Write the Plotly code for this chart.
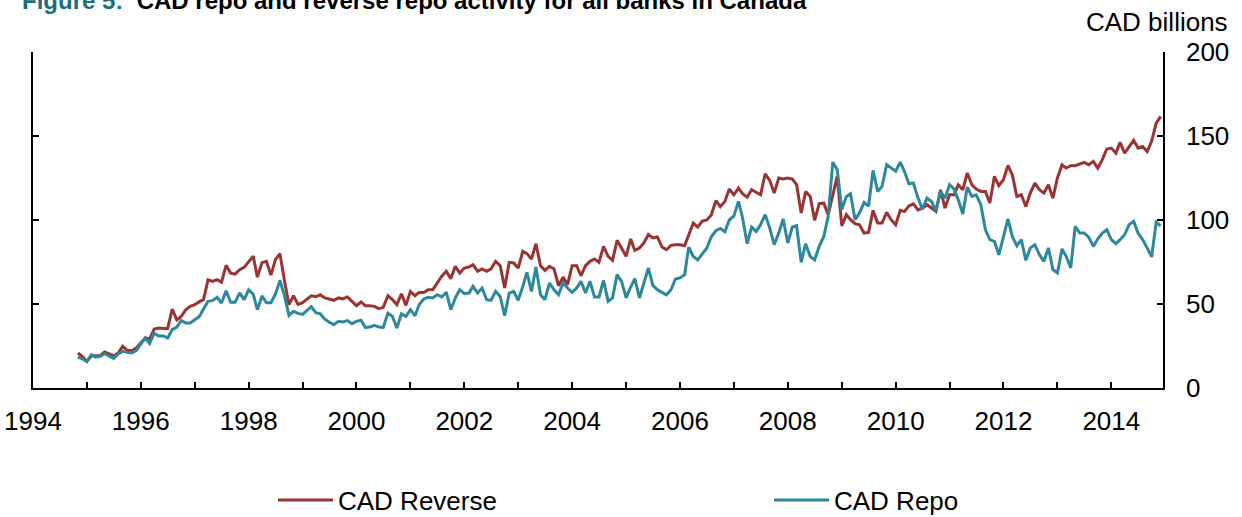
import pandas as pd
import plotly.graph_objects as go

# Monthly observations, Nov 1994 .. Dec 2014 (CAD billions)
start_month = "1994-11-01"

cad_reverse = [
    20.8, 18.8, 15.8, 19.2, 19.2, 19.2, 21.4, 20.4, 19.2, 20.8,
    24.8, 22.4, 22.2, 23.8, 26.8, 29.8, 29.2, 35.1, 35.7, 35.7,
    35.3, 47.0, 40.6, 42.6, 46.6, 48.6, 49.6, 51.4, 52.6, 64.5,
    63.5, 64.5, 63.0, 73.0, 68.4, 67.8, 70.4, 71.8, 75.4, 78.4,
    66.0, 74.6, 75.4, 67.2, 76.4, 79.9, 63.5, 49.6, 54.9, 49.8,
    50.8, 52.8, 54.9, 54.4, 55.5, 53.6, 53.0, 52.2, 53.6, 53.0,
    54.2, 51.6, 49.0, 51.2, 49.0, 49.0, 48.6, 47.2, 48.0, 54.9,
    52.6, 49.6, 56.1, 49.2, 57.5, 54.9, 56.9, 56.9, 58.5, 58.5,
    62.5, 66.5, 69.5, 65.1, 72.4, 68.4, 71.4, 72.0, 73.4, 69.5,
    70.9, 69.5, 70.9, 75.4, 72.8, 59.5, 74.8, 74.4, 71.4, 81.4,
    80.0, 76.8, 85.9, 72.8, 70.0, 72.4, 70.9, 60.9, 66.0, 61.5,
    72.8, 72.8, 66.8, 72.8, 75.4, 76.8, 74.8, 84.3, 78.4, 76.0,
    87.9, 83.3, 78.4, 88.7, 81.9, 83.3, 86.3, 91.3, 89.3, 89.9,
    83.9, 82.3, 84.9, 85.3, 85.3, 84.7, 91.3, 98.2, 95.8, 99.4,
    100.0, 103.0, 111.5, 108.0, 111.0, 118.4, 115.0, 119.0, 115.6, 113.6,
    118.0, 116.4, 115.0, 127.5, 123.6, 116.0, 125.0, 124.4, 125.0, 124.4,
    121.0, 104.2, 117.0, 114.0, 99.8, 109.7, 110.0, 103.2, 114.0, 126.0,
    96.5, 103.2, 100.2, 97.8, 97.2, 92.2, 92.6, 105.7, 98.2, 98.2,
    104.6, 100.2, 97.2, 105.7, 105.0, 108.4, 109.6, 106.0, 107.1, 109.1,
    107.1, 105.1, 118.0, 107.1, 115.0, 115.0, 121.0, 118.0, 128.0, 121.0,
    118.4, 117.0, 117.0, 110.1, 126.0, 120.4, 124.0, 132.5, 126.9, 114.0,
    115.0, 108.0, 116.0, 122.0, 118.0, 116.0, 121.0, 113.0, 125.0, 132.9,
    130.9, 132.3, 132.3, 133.5, 134.3, 132.9, 134.9, 130.9, 135.9, 142.2,
    142.8, 139.8, 146.2, 139.8, 143.8, 147.4, 142.8, 143.8, 140.8, 146.8,
    157.7, 161.7,
]

cad_repo = [
    18.4, 17.4, 15.8, 19.8, 18.4, 18.8, 20.4, 19.2, 17.6, 20.2,
    21.8, 21.2, 20.8, 22.2, 25.8, 29.8, 26.4, 32.6, 31.0, 31.0,
    29.8, 34.7, 36.3, 40.2, 38.7, 38.7, 40.6, 42.6, 47.0, 51.6,
    52.0, 54.0, 50.6, 57.8, 51.0, 51.0, 56.6, 52.6, 58.4, 55.8,
    46.6, 54.8, 50.8, 50.8, 55.8, 64.0, 54.8, 43.2, 45.6, 44.4,
    43.8, 46.4, 48.4, 44.8, 44.2, 41.0, 39.1, 37.7, 39.7, 39.3,
    40.1, 38.3, 39.7, 40.3, 36.1, 36.3, 37.3, 36.3, 36.1, 44.6,
    42.6, 35.7, 44.2, 42.6, 46.6, 43.0, 49.6, 53.0, 54.0, 53.6,
    55.5, 54.2, 57.0, 46.6, 53.6, 58.5, 56.1, 56.5, 60.5, 56.5,
    59.5, 52.6, 52.2, 57.5, 54.5, 43.0, 56.5, 57.5, 52.2, 60.5,
    68.8, 57.5, 72.0, 55.5, 52.6, 62.5, 58.5, 55.5, 62.5, 59.5,
    56.9, 59.5, 63.5, 56.5, 63.5, 54.2, 54.2, 64.1, 51.6, 53.6,
    67.5, 63.5, 53.6, 60.1, 65.1, 53.6, 62.5, 71.4, 61.1, 58.5,
    56.9, 55.5, 58.5, 64.9, 65.5, 67.4, 83.8, 78.3, 76.3, 79.6,
    83.2, 90.0, 93.6, 95.0, 93.0, 100.0, 102.4, 111.1, 101.2, 85.9,
    95.8, 93.2, 97.2, 103.2, 95.2, 85.3, 92.2, 100.6, 86.3, 95.8,
    96.6, 74.8, 85.9, 78.3, 76.3, 84.3, 90.2, 102.2, 134.4, 130.0,
    106.2, 114.0, 115.6, 100.2, 104.2, 110.5, 108.2, 129.5, 117.0, 120.0,
    133.0, 131.0, 129.0, 134.4, 129.0, 121.6, 122.0, 113.2, 106.5, 113.0,
    111.0, 105.5, 117.0, 113.0, 121.0, 118.4, 112.0, 103.6, 119.6, 114.0,
    115.0, 109.1, 94.2, 88.3, 87.3, 79.3, 90.2, 100.6, 90.2, 84.6,
    88.3, 76.0, 83.4, 85.3, 79.3, 75.4, 83.4, 70.5, 68.5, 82.8,
    78.4, 71.5, 96.2, 92.2, 92.2, 89.8, 84.3, 88.7, 92.2, 94.2,
    88.3, 85.9, 88.3, 91.2, 97.2, 99.2, 92.2, 88.3, 83.4, 78.0,
    98.6, 96.6,
]

dates = pd.date_range(start_month, periods=len(cad_reverse), freq="MS")

year_ticks = [str(y) for y in range(1994, 2015, 2)]

RED = "#9B3332"
BLUE = "#2D889D"
TEAL = "#1A6F78"
FONT = "Liberation Sans, Arial, sans-serif"

PL, PR, PT, PB = 33, 79, 52, 129
PW = 1242 - PL - PR
PH = 517 - PT - PB

fig = go.Figure()
fig.add_trace(go.Scatter(x=dates, y=cad_reverse, mode="lines", name="CAD Reverse",
                         line=dict(color=RED, width=3), legend="legend"))
fig.add_trace(go.Scatter(x=dates, y=cad_repo, mode="lines", name="CAD Repo",
                         line=dict(color=BLUE, width=3), legend="legend2"))

legend_common = dict(orientation="h", xanchor="left", yanchor="middle",
                     font=dict(size=26, color="black"), bgcolor="rgba(0,0,0,0)",
                     borderwidth=0, itemwidth=55)

fig.update_layout(
    width=1242, height=517,
    margin=dict(l=PL, r=PR, t=PT, b=PB, autoexpand=False),
    paper_bgcolor="white", plot_bgcolor="white",
    font=dict(family=FONT, size=26, color="black"),
    showlegend=True,
    legend=dict(x=(273 - PL) / PW, y=(388 - 500) / PH, **legend_common),
    legend2=dict(x=(769 - PL) / PW, y=(388 - 500) / PH, **legend_common),
    xaxis=dict(
        type="date",
        range=["1994-01-01", "2014-12-17"],
        tickvals=[pd.Timestamp(f"{y}-01-01") for y in year_ticks],
        ticktext=year_ticks,
        ticks="inside", ticklen=6, tickwidth=1.5, tickcolor="black",
        minor=dict(dtick="M12", tick0="1995-01-01", ticks="inside", ticklen=6,
                   tickwidth=1.5, tickcolor="black", showgrid=False),
        showline=True, linecolor="black", linewidth=1.5,
        showgrid=False, zeroline=False,
        ticklabelstandoff=9,
        tickfont=dict(size=26),
    ),
    yaxis=dict(
        side="right", range=[0, 200], dtick=50, tick0=0,
        ticks="inside", ticklen=6, tickwidth=1.5, tickcolor="black",
        showline=True, linecolor="black", linewidth=1.5, mirror="ticks",
        showgrid=False, zeroline=False,
        ticklabelstandoff=16,
        tickfont=dict(size=26),
    ),
)

fig.add_annotation(
    text=("<b><span style='color:%s'>Figure 5:</span>&nbsp;&nbsp;"
          "CAD repo and reverse repo activity for all banks in Canada</b>") % TEAL,
    xref="paper", yref="paper", x=0, y=1, xanchor="left", yanchor="middle",
    xshift=-13, yshift=52, showarrow=False,
    font=dict(family=FONT, size=24, color="black"),
)
fig.add_annotation(
    text="CAD billions", xref="paper", yref="paper", x=1, y=1,
    xanchor="right", yanchor="middle", xshift=67, yshift=30, showarrow=False,
    font=dict(family=FONT, size=26, color="black"),
)

fig.write_html("out.html",
               config={"displayModeBar": False},
               post_script="document.body.style.margin='0';document.body.style.padding='0';")
